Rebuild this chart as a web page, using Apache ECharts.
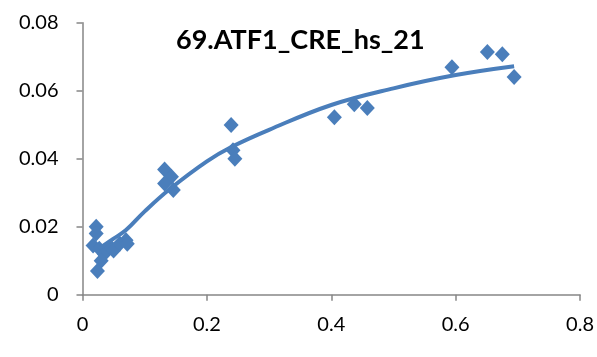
<!DOCTYPE html>
<html>
<head>
<meta charset="utf-8">
<script src="https://cdn.jsdelivr.net/npm/echarts@6/dist/echarts.min.js"></script>
<style>
  html, body { margin: 0; padding: 0; background: #fff; }
  #chart { width: 597px; height: 357px; }
</style>
</head>
<body>
<div id="chart"></div>
<script>
// scatter points [x, y]
var pointsX = [0.022, 0.022, 0.017, 0.027, 0.035, 0.045, 0.05, 0.06, 0.07, 0.072, 0.03, 0.024,
               0.132, 0.143, 0.132, 0.146, 0.239, 0.242, 0.245,
               0.405, 0.437, 0.458, 0.594, 0.651, 0.675, 0.694];
var pointsY = [0.020, 0.018, 0.0145, 0.0135, 0.012, 0.014, 0.013, 0.015, 0.016, 0.015, 0.010, 0.007,
               0.0368, 0.0347, 0.0327, 0.0308, 0.0499, 0.0425, 0.040,
               0.0522, 0.056, 0.0549, 0.0669, 0.0714, 0.0707, 0.064];

// trend line
var trendX = [0.026, 0.05, 0.07, 0.1, 0.14, 0.2, 0.24, 0.3, 0.4, 0.5, 0.6, 0.694];
var trendY = [0.0135, 0.0165, 0.019, 0.0245, 0.031, 0.0392, 0.0435, 0.0485, 0.0558, 0.0607, 0.0646, 0.0672];

var xTicks = [0, 0.2, 0.4, 0.6, 0.8];
var yTicks = [0, 0.02, 0.04, 0.06, 0.08];

var titleText = '69.ATF1_CRE_hs_21';

var points = pointsX.map(function (x, i) { return [x, pointsY[i]]; });
var trend = trendX.map(function (x, i) { return [x, trendY[i]]; });

var myChart = echarts.init(document.getElementById('chart'));
var axisFont = { color: '#000', fontSize: 20, fontFamily: 'Lato' };

var option = {
    animation: false,
    title: {
        text: titleText,
        left: 176,
        top: 27,
        padding: 0,
        textStyle: { fontSize: 27, fontWeight: 'bold', color: '#000', fontFamily: 'Lato' }
    },
    grid: { left: 82.5, right: 16, top: 22.7, bottom: 62.3 },
    xAxis: {
        type: 'value',
        min: xTicks[0],
        max: xTicks[xTicks.length - 1],
        interval: 0.2,
        axisLine: { lineStyle: { color: '#868686', width: 1.5 } },
        axisTick: { show: true, length: 6, lineStyle: { color: '#868686', width: 1.5 } },
        splitLine: { show: false },
        axisLabel: Object.assign({ margin: 20, showMaxLabel: true, formatter: function (v) { return String(+v.toFixed(1)); } }, axisFont)
    },
    yAxis: {
        type: 'value',
        min: yTicks[0],
        max: yTicks[yTicks.length - 1],
        interval: 0.02,
        axisLine: { show: true, lineStyle: { color: '#868686', width: 1.5 } },
        axisTick: { show: true, length: 6, lineStyle: { color: '#868686', width: 1.5 } },
        splitLine: { show: false },
        axisLabel: Object.assign({ margin: 24, formatter: function (v) { return String(+v.toFixed(2)); } }, axisFont)
    },
    series: [
        {
            type: 'line',
            data: trend,
            smooth: 0.4,
            showSymbol: false,
            lineStyle: { color: '#4a7ebb', width: 4 },
            z: 3
        },
        {
            type: 'scatter',
            data: points,
            symbol: 'diamond',
            symbolSize: [15, 16],
            itemStyle: { color: '#4a7ebb', opacity: 1 },
            z: 2
        }
    ]
};
myChart.setOption(option);
</script>
</body>
</html>
